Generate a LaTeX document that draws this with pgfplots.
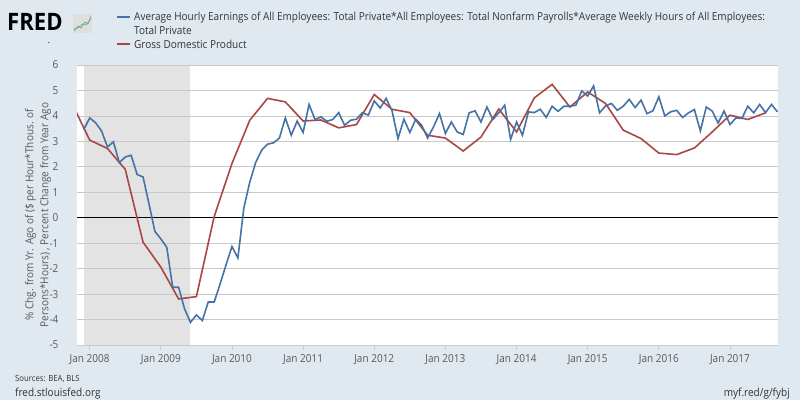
\documentclass[border=0pt]{standalone}
\usepackage{fontspec}
\setmainfont{Open Sans}[FakeStretch=0.91]
\newfontfamily\logofont{Open Sans}[FakeStretch=0.92]
\usepackage{pgfplots}
\pgfplotsset{compat=1.18}
\definecolor{bg}{HTML}{E1E9F0}
\definecolor{fblue}{HTML}{4572A7}
\definecolor{fredred}{HTML}{AA4643}
\definecolor{txt}{HTML}{333333}
\definecolor{ticktxt}{HTML}{595959}
\definecolor{gridc}{HTML}{C8C8C8}
\definecolor{recess}{HTML}{E3E3E3}
\definecolor{axc}{HTML}{BFCCD9}

\pgfplotstableread{
m v
-3 4.50
0 3.05
3 2.72
6 1.90
9 -0.96
12 -1.94
15 -3.19
18 -3.10
21 0.05
24 2.13
27 3.83
30 4.69
33 4.55
36 3.80
39 3.84
42 3.53
45 3.66
48 4.84
51 4.26
54 4.13
57 3.24
60 3.13
63 2.62
66 3.17
69 4.27
72 3.37
75 4.71
78 5.24
81 4.35
84 4.94
87 4.49
90 3.44
93 3.11
96 2.54
99 2.48
102 2.74
105 3.37
108 4.03
111 3.86
114 4.12
}\gdp

\pgfplotstableread{
m v
-1 3.46
0 3.92
1 3.73
2 3.41
3 2.78
4 2.98
5 2.16
6 2.39
7 2.45
8 1.70
9 1.60
10 0.55
11 -0.54
12 -0.83
13 -1.16
14 -2.73
15 -2.73
16 -3.58
17 -4.11
18 -3.82
19 -4.04
20 -3.31
21 -3.31
22 -2.60
23 -1.85
24 -1.13
25 -1.58
26 0.38
27 1.40
28 2.17
29 2.65
30 2.89
31 2.94
32 3.13
33 3.92
34 3.24
35 3.80
36 3.35
37 4.45
38 3.86
39 3.96
40 3.79
41 3.86
42 4.13
43 3.63
44 3.83
45 3.87
46 4.13
47 4.03
48 4.59
49 4.31
50 4.69
51 4.20
52 3.11
53 3.87
54 3.35
55 3.87
56 3.63
57 3.13
58 3.57
59 4.09
60 3.31
61 3.76
62 3.37
63 3.27
64 4.12
65 4.20
66 3.76
67 4.35
68 3.86
69 4.12
70 4.42
71 3.08
72 3.76
73 3.24
74 4.16
75 4.13
76 4.26
77 3.94
78 4.38
79 4.18
80 4.38
81 4.38
82 4.42
83 4.98
84 4.78
85 5.18
86 4.12
87 4.39
88 4.49
89 4.22
90 4.38
91 4.65
92 4.33
93 4.62
94 4.09
95 4.20
96 4.75
97 4.00
98 4.16
99 4.22
100 3.94
101 4.12
102 4.25
103 3.41
104 4.35
105 4.19
106 3.72
107 4.19
108 3.66
109 3.92
110 3.90
111 4.38
112 4.12
113 4.45
114 4.13
115 4.45
116 4.16
}\earn

\begin{document}
\begin{tikzpicture}
\fill[bg] (0pt,0pt) rectangle (800pt,400pt);
\path[use as bounding box] (0pt,0pt) rectangle (800pt,400pt);
% background axis: white area + recession shading
\begin{axis}[at={(77pt,55pt)}, anchor=south west, scale only axis,
  width=701pt, height=280pt,
  xmin=-2.14, xmax=116.1, ymin=-5, ymax=6,
  axis lines=none, ticks=none,
  axis background/.style={fill=white}]
\addplot[draw=none, fill=recess] coordinates {(-1,-5) (-1,6) (17,6) (17,-5)} -- cycle;
\end{axis}
% main axis
\begin{axis}[at={(77pt,55pt)}, anchor=south west, scale only axis,
  width=701pt, height=280pt,
  xmin=-2.14, xmax=116.1, ymin=-5, ymax=6,
  axis x line*=bottom, axis y line*=left,
  y axis line style={draw=none},
  x axis line style={draw=axc, line width=1pt},
  ytick={-5,-4,...,6},
  xtick={0,12,...,108},
  xticklabels={Jan 2008,Jan 2009,Jan 2010,Jan 2011,Jan 2012,Jan 2013,Jan 2014,Jan 2015,Jan 2016,Jan 2017},
  ymajorgrids, grid style={gridc, line width=0.8pt},
  ytick style={draw=none},
  xtick style={draw=axc, line width=0.8pt},
  tick align=outside, major tick length=5pt,
  /pgf/number format/assume math mode=true,
  tick label style={font=\fontsize{11}{13}\selectfont, text=ticktxt},
  yticklabel style={xshift=-10pt},
  xticklabel style={yshift=-1pt},
  clip=true]
\addplot[black, line width=1.4pt, forget plot] coordinates {(-3,0) (117,0)};
\addplot[fredred, line width=1.6pt] table[x=m,y=v] {\gdp};
\addplot[fblue, line width=1.6pt] table[x=m,y=v] {\earn};
\end{axis}
\begin{scope}[x=1pt,y=1pt]
% y label
\node[rotate=90, align=center, text=ticktxt, font=\fontsize{11}{15}\selectfont] at (38,185)
  {\% Chg. from Yr. Ago of (\$ per Hour*Thous. of\\Persons*Hours) , Percent Change from Year Ago};
% logo
\node[anchor=base west, inner sep=0pt, text depth=0pt, font=\logofont\fontsize{24}{24}\selectfont\bfseries] at (7,369) {FRED};
\fill[gray!25] (73,367) rectangle (92,386);
\draw[green!50!black!60, line width=0.7pt] (74,369) -- (78,374) -- (81,372) -- (85,378) -- (88,376) -- (91,384);
\draw[fblue!70, line width=0.7pt] (74,371) -- (78,372) -- (82,376) -- (86,375) -- (91,381);
\node[anchor=base, inner sep=0pt, text height=1.5pt, text depth=0pt, font=\fontsize{9}{9}\selectfont] at (49,356) {.};
% legend
\draw[fblue, line width=2pt] (117,383) -- (130,383);
\node[anchor=base west, inner sep=0pt, text=txt, font=\fontsize{11}{13}\selectfont] at (134,379)
  {Average Hourly Earnings of All Employees: Total Private*All Employees: Total Nonfarm Payrolls*Average Weekly Hours of All Employees:};
\node[anchor=base west, inner sep=0pt, text=txt, font=\fontsize{11}{13}\selectfont] at (134,365) {Total Private};
\draw[fredred, line width=2pt] (117,356) -- (130,356);
\node[anchor=base west, inner sep=0pt, text=txt, font=\fontsize{11}{13}\selectfont] at (134,352) {Gross Domestic Product};
% footer
\node[anchor=base west, inner sep=0pt, text=txt, font=\fontsize{8.5}{10}\selectfont] at (15,19) {Sources: BEA, BLS};
\node[anchor=base west, inner sep=0pt, text=txt, font=\fontsize{11}{13}\selectfont] at (15,4) {fred.stlouisfed.org};
\node[anchor=base east, inner sep=0pt, text=txt, font=\fontsize{11}{13}\selectfont] at (790,4) {myf.red/g/fybj};
\end{scope}
\end{tikzpicture}
\end{document}
